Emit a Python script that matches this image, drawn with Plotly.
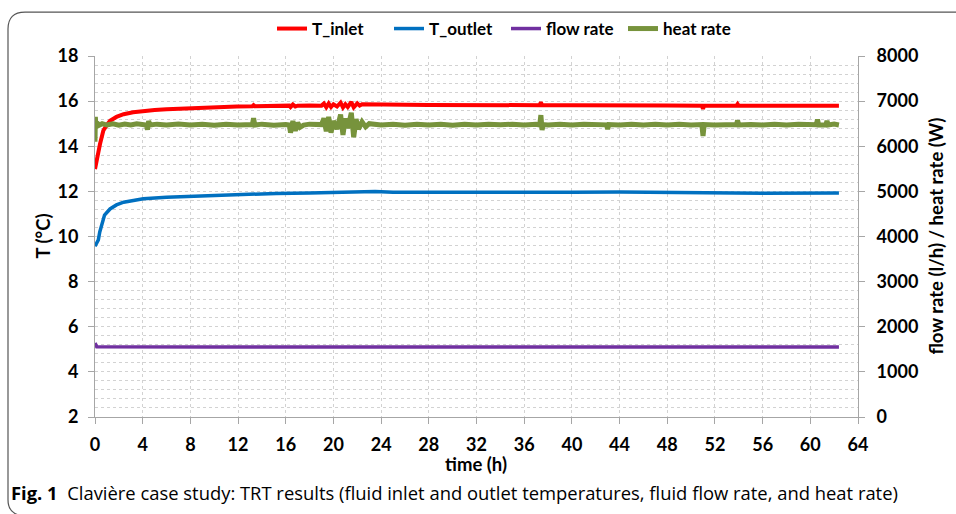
import plotly.graph_objects as go

# ---------------- data ----------------
t_inlet = [0, 0.15, 0.28, 0.42, 0.7, 1.0, 1.26, 1.8, 2.4, 3.2, 4.05, 5, 6, 8, 10, 11.9,
           13.2, 13.3, 13.4, 15.2, 16.3, 16.4, 16.6, 16.8, 17, 18, 19.0, 19.2, 19.4, 19.6,
           19.8, 20.0, 20.3, 20.6, 20.8, 21.0, 21.2, 21.5, 21.7, 22.0, 22.2, 22.4, 23, 24,
           26, 28, 30, 34, 37.3, 37.4, 37.5, 40, 44, 48, 50.9, 51.0, 51.1, 53.8, 53.9, 54.0,
           56, 60, 62.4]
T_inlet = [12.99, 13.5, 13.73, 14.1, 14.7, 14.95, 15.13, 15.3, 15.42, 15.51, 15.57, 15.61,
           15.64, 15.69, 15.73, 15.76, 15.77, 15.82, 15.77, 15.79, 15.80, 15.74, 15.85,
           15.76, 15.80, 15.81, 15.80, 15.89, 15.73, 15.90, 15.74, 15.86, 15.76, 15.93,
           15.72, 15.86, 15.74, 15.96, 15.72, 15.90, 15.80, 15.86, 15.85, 15.85, 15.84,
           15.83, 15.82, 15.82, 15.82, 15.95, 15.82, 15.82, 15.83, 15.81, 15.80, 15.66,
           15.80, 15.79, 15.87, 15.79, 15.79, 15.78, 15.79]

t_outlet = [0, 0.15, 0.28, 0.4, 0.56, 0.8, 1.26, 1.8, 2.4, 3.2, 4.05, 6, 8, 12, 15.2, 18,
            20, 22, 23.5, 25, 30, 36, 40, 44, 48, 52, 56, 62.4]
T_outlet = [9.57, 9.7, 9.85, 10.2, 10.56, 10.95, 11.22, 11.4, 11.52, 11.61, 11.67, 11.74,
            11.78, 11.86, 11.91, 11.93, 11.96, 11.97, 12.0, 11.96, 11.95, 11.95, 11.96,
            11.97, 11.95, 11.93, 11.92, 11.93]

t_flow = [0, 0.08, 0.15, 10, 20, 30, 40, 50, 62.4]
flow_rate = [1640, 1600, 1555, 1552, 1552, 1552, 1552, 1552, 1552]

t_heat = [0.0, 0.03, 0.08, 0.15, 0.3, 0.6, 1.0, 1.5, 2.0, 2.5, 3.0, 3.5, 4.0, 4.3, 4.4,
          4.5, 4.6, 5.2, 6, 7, 8, 9, 10, 11, 12, 13.2, 13.3, 13.4, 14, 15, 16, 16.3, 16.4,
          16.6, 16.8, 17.0, 17.2, 17.5, 18, 18.8, 19.0, 19.2, 19.4, 19.6, 19.8, 20.0, 20.3,
          20.6, 20.8, 21.0, 21.2, 21.5, 21.7, 21.9, 22.1, 22.4, 22.7, 23.0, 24, 25, 26, 27,
          28, 29, 30, 31, 32, 33, 34, 35, 36, 37, 37.3, 37.4, 37.5, 37.6, 38, 39, 40, 41,
          42, 42.9, 43, 43.1, 44, 45, 46, 47, 48, 49, 50, 50.9, 51.0, 51.1, 52, 53, 53.8,
          53.9, 54.0, 55, 56, 57, 58, 59, 60, 60.5, 60.6, 60.7, 61.3, 61.4, 61.5, 62, 62.4]
heat_rate = [6100, 6650, 6420, 6530, 6460, 6500, 6470, 6495, 6465, 6490, 6470, 6500, 6475,
             6470, 6370, 6560, 6470, 6490, 6470, 6495, 6470, 6490, 6465, 6490, 6470, 6480,
             6620, 6470, 6490, 6465, 6480, 6470, 6300, 6560, 6340, 6520, 6420, 6470, 6490,
             6460, 6480, 6620, 6330, 6650, 6300, 6560, 6380, 6700, 6250, 6620, 6400, 6740,
             6200, 6600, 6380, 6540, 6430, 6500, 6470, 6490, 6465, 6485, 6470, 6490, 6465,
             6485, 6470, 6490, 6475, 6490, 6470, 6485, 6470, 6690, 6360, 6480, 6470, 6490,
             6470, 6490, 6475, 6475, 6380, 6480, 6470, 6490, 6470, 6485, 6470, 6490, 6470,
             6480, 6230, 6480, 6470, 6490, 6480, 6570, 6470, 6480, 6470, 6490, 6470, 6485,
             6470, 6475, 6590, 6470, 6470, 6560, 6470, 6490, 6470]

x_ticks = list(range(0, 65, 4))
y_left_ticks = list(range(2, 19, 2))
y_right_ticks = list(range(0, 8001, 1000))

caption = ("<b>Fig. 1</b>  Clavière case study: TRT results (fluid inlet and outlet "
           "temperatures, fluid flow rate, and heat rate)")

# ---------------- figure ----------------
W, H = 956, 514
L, R, T, B = 95, 858, 55, 417   # plot area in pixels


def px(x):
    return (x - L) / (R - L)


def py(y):
    return (B - y) / (B - T)


fig = go.Figure()
fig.add_trace(go.Scatter(x=t_inlet, y=T_inlet, name="T_inlet", mode="lines",
                         line=dict(color="#FF0000", width=4), yaxis="y"))
fig.add_trace(go.Scatter(x=t_outlet, y=T_outlet, name="T_outlet", mode="lines",
                         line=dict(color="#0070C0", width=3.5), yaxis="y"))
fig.add_trace(go.Scatter(x=t_flow, y=flow_rate, name="flow rate", mode="lines",
                         line=dict(color="#7030A0", width=3.5), yaxis="y2"))
fig.add_trace(go.Scatter(x=t_heat, y=heat_rate, name="heat rate", mode="lines",
                         line=dict(color="#77933C", width=5), yaxis="y2"))

axis_col = "#a6a6a6"
grid_col = "#d2d2d2"
tickfont = dict(family="Lato", size=18, color="#000000", weight="bold")

fig.update_layout(
    width=W, height=H,
    margin=dict(l=L, r=W - R, t=T, b=H - B),
    paper_bgcolor="white", plot_bgcolor="white",
    showlegend=True,
    legend=dict(orientation="h", x=px(506), xanchor="center", y=py(29), yanchor="middle",
                font=dict(family="Lato", size=17, color="#000000", weight="bold"),
                bgcolor="rgba(0,0,0,0)", itemwidth=30, tracegroupgap=0,
                entrywidth=72, entrywidthmode="pixels"),
    xaxis=dict(range=[0, 64], tickvals=x_ticks, showgrid=True, gridcolor=grid_col,
               griddash="dot", gridwidth=1, zeroline=False, showline=True,
               linecolor=axis_col, linewidth=1, ticks="outside", ticklen=6,
               tickcolor=axis_col, tickfont=tickfont, ticklabelstandoff=5),
    yaxis=dict(range=[2, 18], tickvals=y_left_ticks, showgrid=False, zeroline=False,
               showline=True, linecolor=axis_col, linewidth=1, ticks="outside",
               ticklen=6, tickcolor=axis_col, tickfont=tickfont, ticklabelstandoff=6),
    yaxis2=dict(range=[0, 8000], tickvals=y_right_ticks, overlaying="y", side="right",
                showgrid=True, gridcolor=grid_col, griddash="dot", gridwidth=1,
                minor=dict(dtick=200, showgrid=True, gridcolor=grid_col, griddash="dot",
                           gridwidth=1),
                zeroline=False, showline=True, linecolor=axis_col, linewidth=1,
                ticks="outside", ticklen=6, tickcolor=axis_col, tickfont=tickfont,
                ticklabelstandoff=8),
)

title_font = dict(family="Lato", size=18.5, color="#000000", weight="bold")
fig.add_annotation(text="T (°C)", x=px(42), y=0.5, xref="paper", yref="paper",
                   textangle=-90, showarrow=False, font=title_font,
                   xanchor="center", yanchor="middle")
fig.add_annotation(text="time (h)", x=px(476), y=py(464), xref="paper", yref="paper",
                   showarrow=False, font=title_font, xanchor="center", yanchor="middle")
fig.add_annotation(text="flow rate (l/h) / heat rate (W)", x=px(935), y=py(236),
                   xref="paper", yref="paper", textangle=-90, showarrow=False,
                   font=title_font, xanchor="center", yanchor="middle")
fig.add_annotation(text=caption, x=px(9), y=py(493), xref="paper", yref="paper",
                   showarrow=False, xanchor="left", yanchor="middle",
                   font=dict(family="Open Sans", size=18.4, color="#000000"))

# rounded outer frame (top-left corner)
path = (f"M {px(22)},{py(516)} Q {px(8)},{py(514)} {px(8)},{py(500)} "
        f"L {px(8)},{py(28)} Q {px(8)},{py(11)} {px(25)},{py(11)} L {px(970)},{py(11)}")
fig.add_shape(type="path", path=path, xref="paper", yref="paper",
              line=dict(color="#555555", width=1.2))

fig.write_html("out.html")
